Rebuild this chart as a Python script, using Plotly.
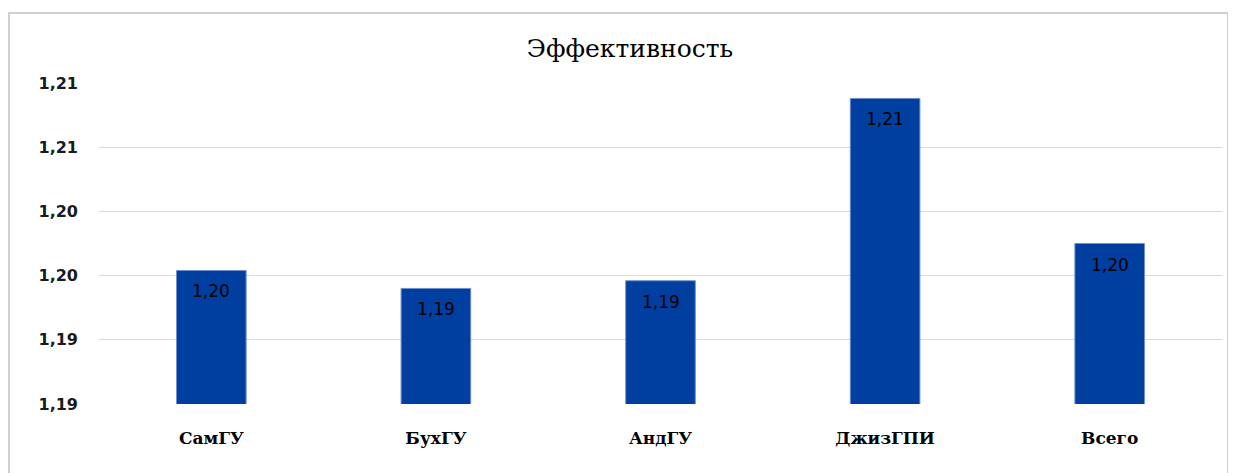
import plotly.graph_objects as go

categories = ["СамГУ", "БухГУ", "АндГУ", "ДжизГПИ", "Всего"]
values = [1.1954, 1.1940, 1.1946, 1.2088, 1.1975]
y_ticks = [1.185, 1.19, 1.195, 1.20, 1.205, 1.21]
title_text = "Эффективность"

labels = [f"{v:.2f}".replace(".", ",") for v in values]

fig = go.Figure()
fig.add_trace(go.Bar(
    x=categories, y=values,
    marker=dict(color="#003fa0", line=dict(color="#6f8fd0", width=1)),
))

for c, v, t in zip(categories, values, labels):
    fig.add_annotation(x=c, y=v, text=t, showarrow=False, yshift=-21,
                       yanchor="middle", xanchor="center",
                       font=dict(family="DejaVu Sans", size=17, color="black"))

PW, PH = 1123, 321
fig.update_layout(
    width=1236, height=473,
    margin=dict(l=91, r=22, t=75, b=77),
    paper_bgcolor="white", plot_bgcolor="white",
    separators=", ",
    bargap=0.69,
    showlegend=False,
    title=dict(text=title_text, x=622/1236, xanchor="center", y=1 - 40/473, yanchor="middle",
               font=dict(family="DejaVu Serif", size=25, color="black")),
    xaxis=dict(showgrid=False, showline=False, ticks="",
               tickfont=dict(family="DejaVu Serif", size=17, color="black", weight="bold"),
               ticklabelstandoff=22),
    yaxis=dict(range=[1.185, 1.21], tickvals=y_ticks, tickformat=".2f",
               showgrid=True, gridcolor="#d9d9d9", gridwidth=1,
               zeroline=False, showline=False, ticks="",
               tickfont=dict(family="DejaVu Sans", size=16, color="#1a1a1a", weight="bold"),
               ticklabelstandoff=20),
    shapes=[dict(type="rect", xref="paper", yref="paper",
                 x0=-90/PW, x1=1129/PW, y0=-0.4, y1=1 + 70/PH,
                 line=dict(color="#d0d0d0", width=2), layer="below")],
)

fig.write_html("out.html")
